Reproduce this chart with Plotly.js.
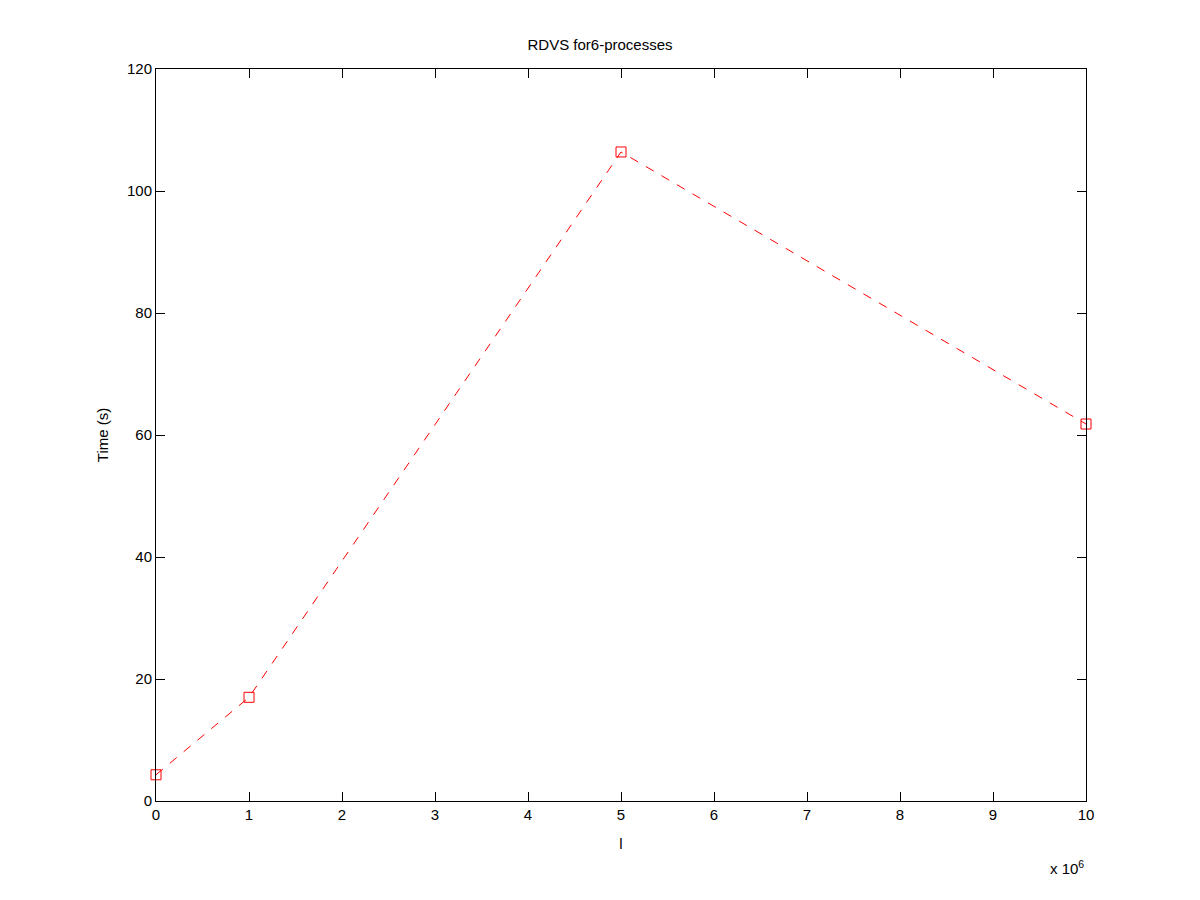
<!DOCTYPE html>
<html>
<head>
<script src="https://cdn.plot.ly/plotly-3.0.1.min.js"></script>
<style>body{margin:0;background:#fff}</style>
</head>
<body>
<div id="graph" style="width:1200px;height:900px"></div>
<script>
let sizes = [0, 1e6, 5e6, 10e6]
let times = [4.3, 17.0, 106.4, 61.8]
let xTicks = [0, 1, 2, 3, 4, 5, 6, 7, 8, 9, 10]
let yTicks = [0, 20, 40, 60, 80, 100, 120]

let trace = {
    x: sizes,
    y: times,
    type: 'scatter',
    mode: 'lines+markers',
    cliponaxis: false,
    line: {color: '#ff0000', dash: 'dash', width: 1},
    marker: {symbol: 'square-open', size: 10, color: '#ff0000', line: {width: 1}}
}

let axisBase = {
    showgrid: false,
    zeroline: false,
    showline: true,
    mirror: 'ticks',
    linecolor: '#000',
    linewidth: 1,
    ticks: 'inside',
    ticklen: 9,
    tickcolor: '#000',
    tickfont: {size: 15, color: '#000'}
}

var layout = {
    width: 1200,
    height: 900,
    font: {family: 'Liberation Sans, Arial, sans-serif', color: '#000'},
    title: {text: 'RDVS for6-processes', x: 0.5, y: 0.95, xanchor: 'center', yanchor: 'middle', font: {size: 15, color: '#000'}},
    margin: {l: 156, r: 114, t: 69, b: 99},
    showlegend: false,
    paper_bgcolor: '#fff',
    plot_bgcolor: '#fff',
    xaxis: Object.assign({}, axisBase, {
        range: [0, 10e6],
        tickvals: xTicks.map(v => v * 1e6),
        ticktext: xTicks.map(String),
        title: {text: 'l', font: {size: 15, color: '#000'}, standoff: 16}
    }),
    yaxis: Object.assign({}, axisBase, {
        range: [0, 120],
        tickvals: yTicks,
        title: {text: 'Time (s)', font: {size: 15, color: '#000'}, standoff: 14}
    }),
    annotations: [{
        text: 'x 10<sup>6</sup>',
        xref: 'paper', yref: 'paper',
        x: 1, y: -0.075,
        xanchor: 'right', yanchor: 'top',
        showarrow: false,
        font: {size: 15, color: '#000'}
    }]
}

Plotly.newPlot('graph', [trace], layout, {displayModeBar: false})
</script>
</body>
</html>
